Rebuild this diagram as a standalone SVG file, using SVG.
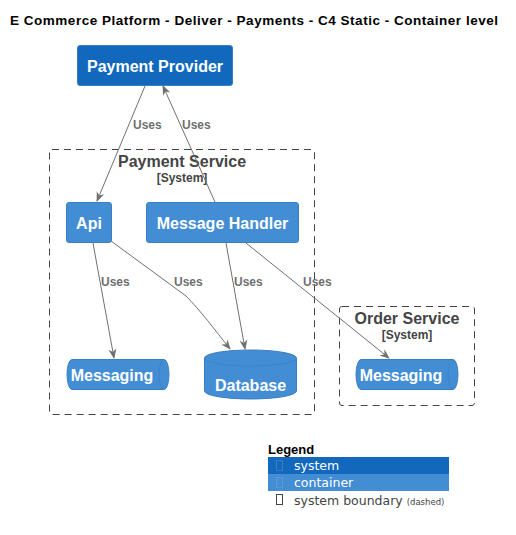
<svg xmlns="http://www.w3.org/2000/svg" width="516" height="535" viewBox="0 0 516 535">
<style>
text{font-family:"Liberation Sans",Arial,sans-serif}
.sys{fill:#1168BD;stroke:#3C7FC0;stroke-width:1}
.cont{fill:#438DD5;stroke:#3C7FC0;stroke-width:1}
.nl{fill:#fff;font-size:16px;font-weight:bold;text-anchor:middle}
.bd{fill:none;stroke:#444;stroke-width:1;stroke-dasharray:7 5}
.bl{fill:#444;font-size:16px;font-weight:bold;text-anchor:middle}
.bt{fill:#444;font-size:12px;font-weight:bold;text-anchor:middle}
.ln{fill:none;stroke:#707070;stroke-width:1}
.ul{fill:#707070;font-size:12px;font-weight:bold}
.cy{fill:none;stroke:#3C7FC0;stroke-width:0.8}
.lg{font-family:"DejaVu Sans",sans-serif;font-size:12.5px}
</style>
<defs>
<marker id="arr" viewBox="0 0 10 10" refX="9" refY="5" markerWidth="10" markerHeight="10" markerUnits="userSpaceOnUse" orient="auto">
<path d="M0,1 L10,5 L0,9 L3,5 Z" fill="#707070"/>
</marker>
</defs>
<rect width="516" height="535" fill="#fff"/>
<text x="10" y="25" font-size="13.5" font-weight="bold" fill="#000" textLength="488" lengthAdjust="spacing">E Commerce Platform - Deliver - Payments - C4 Static - Container level</text>

<g id="payment-service-boundary">
<rect class="bd" x="49.5" y="149.5" width="265" height="265" rx="2.5"/>
<text class="bl" x="182" y="167">Payment Service</text>
<text class="bt" x="182" y="182">[System]</text>
</g>
<g id="order-service-boundary">
<rect class="bd" x="339.5" y="306.5" width="135" height="99" rx="2.5"/>
<text class="bl" x="407" y="324">Order Service</text>
<text class="bt" x="407" y="339">[System]</text>
</g>

<g id="payment-provider">
<rect class="sys" x="77.5" y="45.5" width="155" height="40" rx="2.5"/>
<text class="nl" x="155" y="72">Payment Provider</text>
</g>
<g id="api">
<rect class="cont" x="66.5" y="202.5" width="45" height="40" rx="2.5"/>
<text class="nl" x="89" y="229">Api</text>
</g>
<g id="message-handler">
<rect class="cont" x="146.5" y="202.5" width="152" height="40" rx="2.5"/>
<text class="nl" x="222.5" y="229">Message Handler</text>
</g>
<g id="payment-messaging">
<path class="cont" d="M72,359.5 L164,359.5 A5,15 0 0 1 164,389.5 L72,389.5 A5,15 0 0 1 72,359.5 Z"/>
<path class="cy" d="M164,359.5 A5,15 0 0 0 164,389.5"/>
<text class="nl" x="112" y="381">Messaging</text>
</g>
<g id="database">
<path class="cont" d="M204.5,358 A46,8 0 0 1 296.5,358 L296.5,391 A46,8 0 0 1 204.5,391 Z"/>
<path class="cy" d="M204.5,358 A46,8 0 0 0 296.5,358"/>
<text class="nl" x="250.5" y="391">Database</text>
</g>
<g id="order-messaging">
<path class="cont" d="M361,359.5 L453,359.5 A5,15 0 0 1 453,389.5 L361,389.5 A5,15 0 0 1 361,359.5 Z"/>
<path class="cy" d="M453,359.5 A5,15 0 0 0 453,389.5"/>
<text class="nl" x="401" y="381">Messaging</text>
</g>

<g id="connectors">
<path class="ln" d="M145,86 L97,201" marker-end="url(#arr)"/>
<text class="ul" x="133" y="129">Uses</text>
<path class="ln" d="M215,202 L163,86" marker-end="url(#arr)"/>
<text class="ul" x="182" y="129">Uses</text>
<path class="ln" d="M93,243 L114,358" marker-end="url(#arr)"/>
<text class="ul" x="101" y="286">Uses</text>
<path class="ln" d="M111,241 L186,296 C200,310 215,330 230,349" marker-end="url(#arr)"/>
<text class="ul" x="174" y="286">Uses</text>
<path class="ln" d="M226,243 L245,349" marker-end="url(#arr)"/>
<text class="ul" x="234" y="286">Uses</text>
<path class="ln" d="M246,243 L389,358" marker-end="url(#arr)"/>
<text class="ul" x="303" y="286">Uses</text>
</g>

<g id="legend">
<text x="268" y="454" font-size="13" font-weight="bold" fill="#000">Legend</text>
<rect x="268" y="457" width="181" height="17" fill="#1168BD"/>
<rect x="268" y="474" width="181" height="17" fill="#438DD5"/>
<rect x="276.5" y="460.5" width="6" height="10" fill="none" stroke="#3C7FC0" stroke-width="1"/>
<rect x="276.5" y="477.5" width="6" height="10" fill="none" stroke="#5A9AD8" stroke-width="1"/>
<rect x="276.5" y="494.5" width="6" height="10" fill="none" stroke="#444" stroke-width="1"/>
<text class="lg" x="294" y="470" fill="#fff">system</text>
<text class="lg" x="294" y="487" fill="#fff">container</text>
<text class="lg" x="294" y="505" fill="#444">system boundary <tspan font-size="8.5">(dashed)</tspan></text>
</g>
</svg>
